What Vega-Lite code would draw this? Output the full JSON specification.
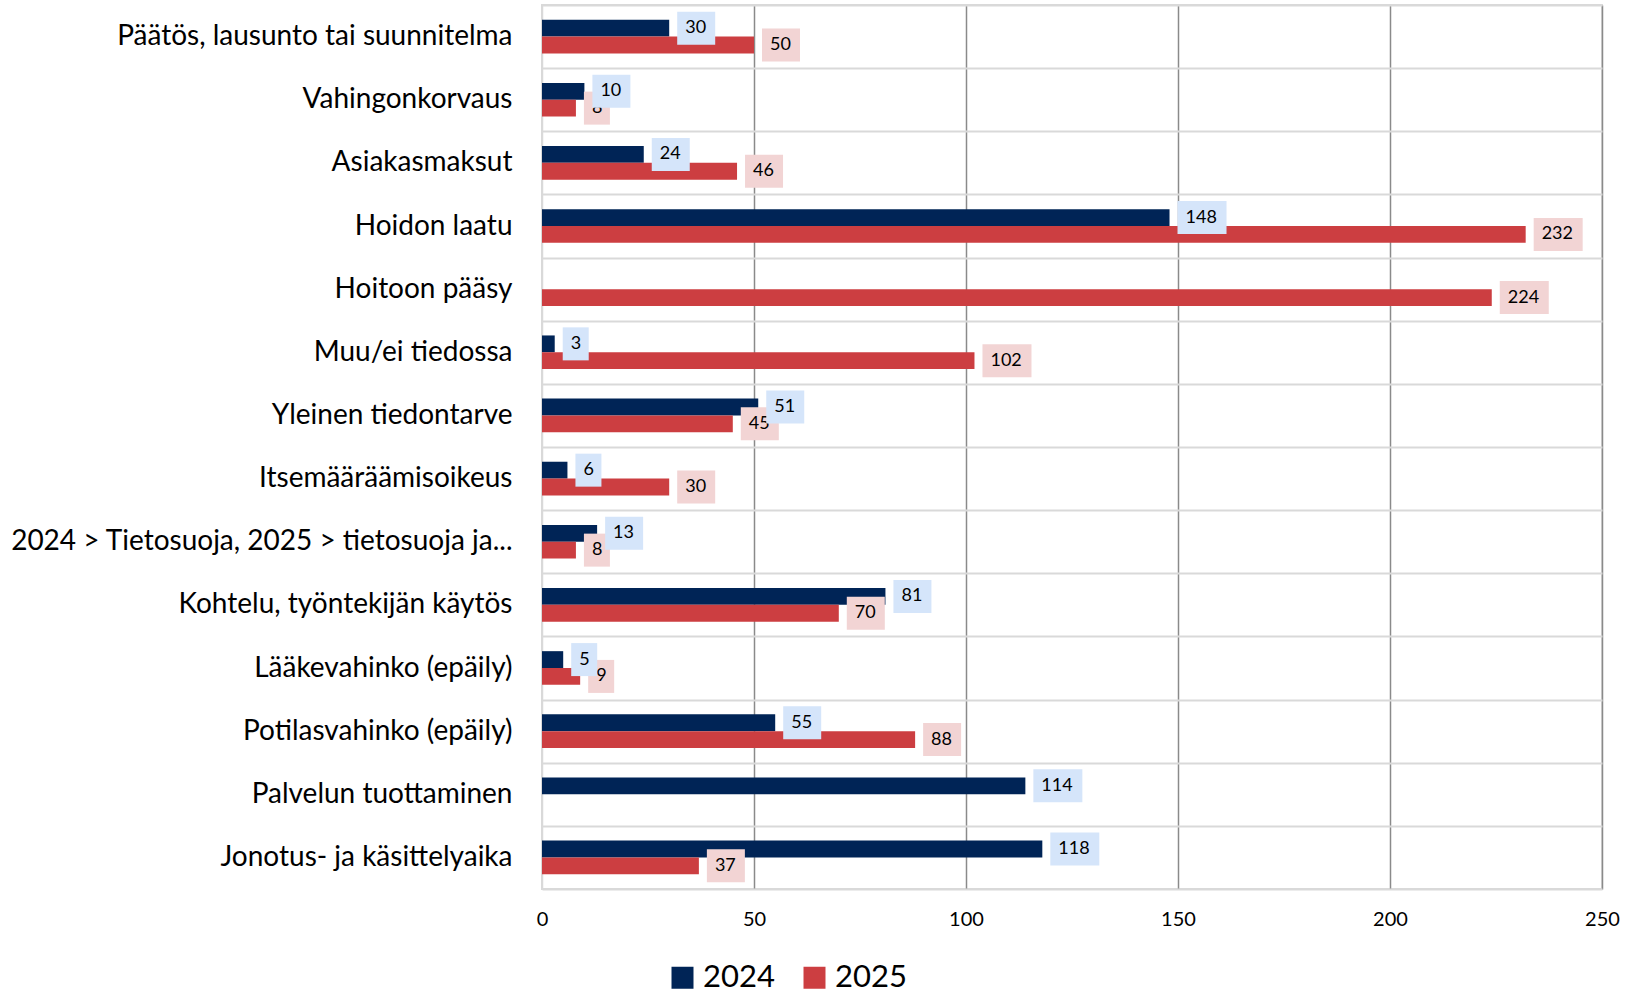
{
  "$schema": "https://vega.github.io/schema/vega-lite/v6.json",
  "width": 1060,
  "height": 884,
  "autosize": {"type": "none"},
  "padding": {"left": 542, "top": 5, "right": 37, "bottom": 105},
  "background": "white",
  "config": {"view": {"stroke": "#d9d9d9", "strokeWidth": 2}, "font": "Lato"},
  "data": {"values": [
    {"cat": "Päätös, lausunto tai suunnitelma", "year": "2024", "value": 30},
    {"cat": "Päätös, lausunto tai suunnitelma", "year": "2025", "value": 50},
    {"cat": "Vahingonkorvaus", "year": "2024", "value": 10},
    {"cat": "Vahingonkorvaus", "year": "2025", "value": 8},
    {"cat": "Asiakasmaksut", "year": "2024", "value": 24},
    {"cat": "Asiakasmaksut", "year": "2025", "value": 46},
    {"cat": "Hoidon laatu ", "year": "2024", "value": 148},
    {"cat": "Hoidon laatu ", "year": "2025", "value": 232},
    {"cat": "Hoitoon pääsy", "year": "2025", "value": 224},
    {"cat": "Muu/ei tiedossa", "year": "2024", "value": 3},
    {"cat": "Muu/ei tiedossa", "year": "2025", "value": 102},
    {"cat": "Yleinen tiedontarve", "year": "2024", "value": 51},
    {"cat": "Yleinen tiedontarve", "year": "2025", "value": 45},
    {"cat": "Itsemääräämisoikeus", "year": "2024", "value": 6},
    {"cat": "Itsemääräämisoikeus", "year": "2025", "value": 30},
    {"cat": "2024 > Tietosuoja, 2025 > tietosuoja ja...", "year": "2024", "value": 13},
    {"cat": "2024 > Tietosuoja, 2025 > tietosuoja ja...", "year": "2025", "value": 8},
    {"cat": "Kohtelu, työntekijän käytös", "year": "2024", "value": 81},
    {"cat": "Kohtelu, työntekijän käytös", "year": "2025", "value": 70},
    {"cat": "Lääkevahinko (epäily)", "year": "2024", "value": 5},
    {"cat": "Lääkevahinko (epäily)", "year": "2025", "value": 9},
    {"cat": "Potilasvahinko (epäily)", "year": "2024", "value": 55},
    {"cat": "Potilasvahinko (epäily)", "year": "2025", "value": 88},
    {"cat": "Palvelun tuottaminen", "year": "2024", "value": 114},
    {"cat": "Jonotus- ja käsittelyaika", "year": "2024", "value": 118},
    {"cat": "Jonotus- ja käsittelyaika", "year": "2025", "value": 37}
  ]},
  "encoding": {
    "y": {
      "field": "cat", "type": "nominal", "title": null,
      "scale": {"domain": ["Päätös, lausunto tai suunnitelma", "Vahingonkorvaus", "Asiakasmaksut", "Hoidon laatu ", "Hoitoon pääsy", "Muu/ei tiedossa", "Yleinen tiedontarve", "Itsemääräämisoikeus", "2024 > Tietosuoja, 2025 > tietosuoja ja...", "Kohtelu, työntekijän käytös", "Lääkevahinko (epäily)", "Potilasvahinko (epäily)", "Palvelun tuottaminen", "Jonotus- ja käsittelyaika"], "paddingInner": 0, "paddingOuter": 0},
      "axis": {"domain": false, "ticks": false, "tickSize": 0, "tickBand": "extent", "grid": true, "gridColor": "#d9d9d9", "gridWidth": 2, "labelFontSize": 28, "labelColor": "#000000", "labelPadding": 30, "labelLimit": 700}
    },
    "yOffset": {"field": "year", "type": "nominal", "scale": {"domain": ["2024", "2025"], "paddingInner": 0, "paddingOuter": 0.875}},
    "x": {
      "field": "value", "type": "quantitative", "title": null,
      "scale": {"domain": [0, 250], "nice": false},
      "axis": {"values": [0, 50, 100, 150, 200, 250], "labelFlush": false, "domain": false, "ticks": false, "tickSize": 0, "grid": true, "gridColor": {"condition": {"test": "datum.value === 0", "value": "#d9d9d9"}, "value": "#8a8a8a"}, "gridWidth": 1.5, "labelFontSize": 20, "labelColor": "#000000", "labelPadding": 20}
    }
  },
  "layer": [
    {
      "mark": {"type": "bar"},
      "encoding": {
        "color": {"field": "year", "type": "nominal", "scale": {"domain": ["2024", "2025"], "range": ["#002456", "#CC3E41"]},
          "legend": {"title": null, "orient": "none", "legendX": 125, "legendY": 957, "direction": "horizontal", "symbolType": "square", "symbolSize": 484, "symbolStrokeWidth": 0, "labelFontSize": 31, "labelColor": "#000000", "labelOffset": 5, "columnPadding": 24, "padding": 0}}
      }
    },
    {"transform": [{"filter": "datum.year == '2025' && datum.value < 10"}], "mark": {"type": "rule", "stroke": "#F2D4D4", "strokeWidth": 33, "strokeCap": "butt", "xOffset": 8, "x2Offset": 34}, "encoding": {"x2": {"field": "value"}}},
    {"transform": [{"filter": "datum.year == '2025' && datum.value >= 10 && datum.value < 100"}], "mark": {"type": "rule", "stroke": "#F2D4D4", "strokeWidth": 33, "strokeCap": "butt", "xOffset": 8, "x2Offset": 46}, "encoding": {"x2": {"field": "value"}}},
    {"transform": [{"filter": "datum.year == '2025' && datum.value >= 100"}], "mark": {"type": "rule", "stroke": "#F2D4D4", "strokeWidth": 33, "strokeCap": "butt", "xOffset": 8, "x2Offset": 57}, "encoding": {"x2": {"field": "value"}}},
    {"transform": [{"filter": "datum.year == '2025'"}], "mark": {"type": "text", "align": "left", "baseline": "middle", "dx": 16, "fontSize": 18, "fill": "#000000"}, "encoding": {"text": {"field": "value", "type": "quantitative"}}},
    {"transform": [{"filter": "datum.year == '2024' && datum.value < 10"}], "mark": {"type": "rule", "stroke": "#D5E5FA", "strokeWidth": 33, "strokeCap": "butt", "xOffset": 8, "x2Offset": 34}, "encoding": {"x2": {"field": "value"}}},
    {"transform": [{"filter": "datum.year == '2024' && datum.value >= 10 && datum.value < 100"}], "mark": {"type": "rule", "stroke": "#D5E5FA", "strokeWidth": 33, "strokeCap": "butt", "xOffset": 8, "x2Offset": 46}, "encoding": {"x2": {"field": "value"}}},
    {"transform": [{"filter": "datum.year == '2024' && datum.value >= 100"}], "mark": {"type": "rule", "stroke": "#D5E5FA", "strokeWidth": 33, "strokeCap": "butt", "xOffset": 8, "x2Offset": 57}, "encoding": {"x2": {"field": "value"}}},
    {"transform": [{"filter": "datum.year == '2024'"}], "mark": {"type": "text", "align": "left", "baseline": "middle", "dx": 16, "fontSize": 18, "fill": "#000000"}, "encoding": {"text": {"field": "value", "type": "quantitative"}}}
  ]
}
